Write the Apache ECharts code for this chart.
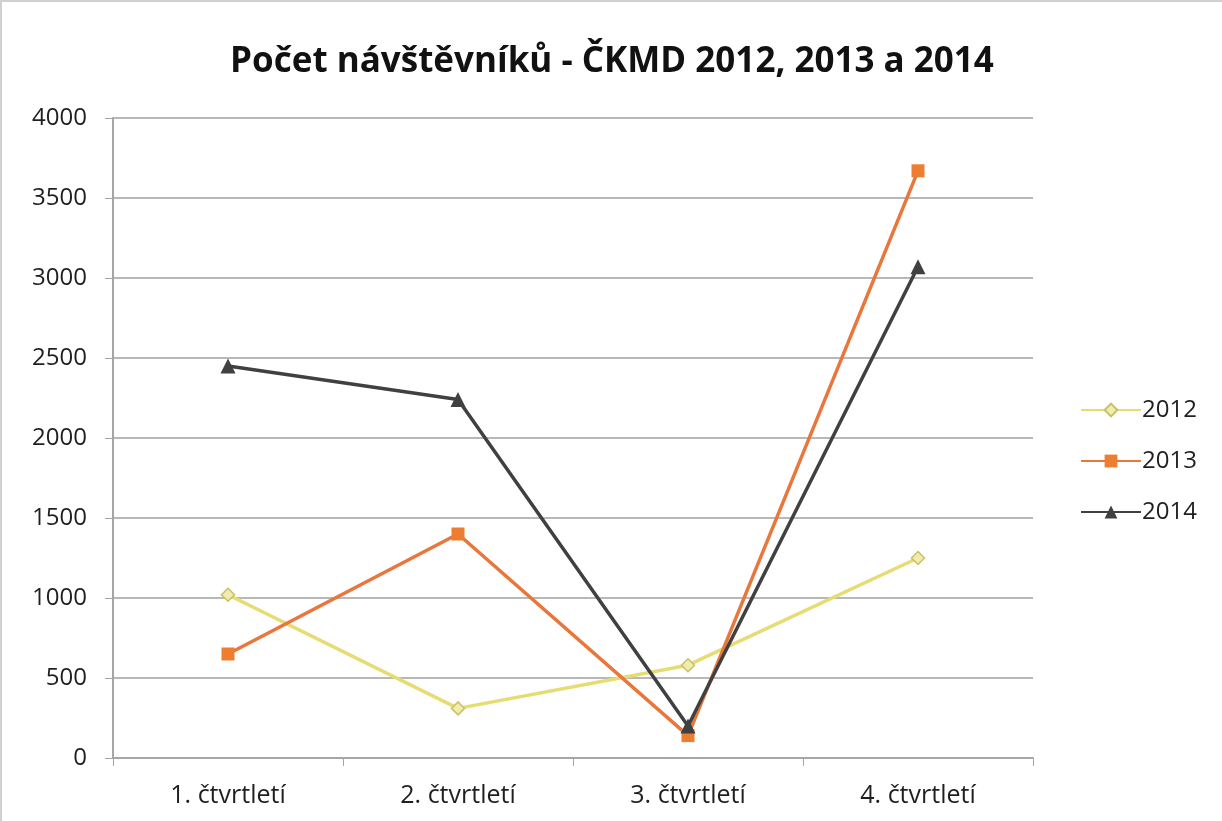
<!DOCTYPE html>
<html><head><meta charset="utf-8">
<script src="https://cdn.jsdelivr.net/npm/echarts@6/dist/echarts.min.js"></script>
<style>html,body{margin:0;padding:0;background:#fff}#c{width:1222px;height:821px;box-sizing:border-box;border:2px solid #d0d0d0;border-right:none;border-bottom:none}</style>
</head><body><div id="c"></div>
<script>
const categories = ['1. čtvrtletí','2. čtvrtletí','3. čtvrtletí','4. čtvrtletí'];
const s2012 = [1020, 310, 580, 1250];
const s2013 = [650, 1400, 140, 3670];
const s2014 = [2450, 2240, 200, 3070];
const yTicks = {min:0, max:4000, interval:500};
const font = 'Open Sans, Liberation Sans, sans-serif';
const chart = echarts.init(document.getElementById('c'));
chart.setOption({
  animation:false,
  title:{text:'Počet návštěvníků - ČKMD 2012, 2013 a 2014', left:'center', top:38,
    textStyle:{fontFamily:font, fontSize:35, fontWeight:'bold', color:'#111'}},
  grid:{left:111, right:189, top:116, bottom:63},
  legend:{orient:'vertical', left:1073, top:391, itemGap:27, itemWidth:60, itemHeight:16,
    textStyle:{fontFamily:font, fontSize:24, color:'#1f1f1f', padding:[0,0,0,-4]},
    data:['2012','2013','2014']},
  xAxis:{type:'category', data:categories, boundaryGap:true,
    axisLine:{lineStyle:{color:'#a6a6a6', width:2}},
    axisTick:{show:true, length:8, lineStyle:{color:'#a6a6a6', width:1}},
    axisLabel:{fontFamily:font, fontSize:25, color:'#1f1f1f', margin:25}},
  yAxis:{type:'value', min:yTicks.min, max:yTicks.max, interval:yTicks.interval,
    axisLine:{show:true, lineStyle:{color:'#a6a6a6', width:2}},
    axisTick:{show:true, length:8, lineStyle:{color:'#a6a6a6'}},
    splitLine:{lineStyle:{color:'#b8b8b8', width:2}},
    axisLabel:{fontFamily:font, fontSize:24, color:'#1f1f1f', margin:26, formatter:v=>String(v)}},
  series:[
    {name:'2012', type:'line', data:s2012, symbol:'diamond', symbolSize:13,
      lineStyle:{color:'#e6dc72', width:3.5}, itemStyle:{color:'#f0ecb0', borderColor:'#c9c262', borderWidth:1.5}},
    {name:'2013', type:'line', data:s2013, symbol:'rect', symbolSize:13,
      lineStyle:{color:'#e9763a', width:3.5}, itemStyle:{color:'#ed7d31'}},
    {name:'2014', type:'line', data:s2014, symbol:'triangle', symbolSize:15,
      lineStyle:{color:'#404040', width:3.5}, itemStyle:{color:'#404040'}}
  ]
});
</script></body></html>
